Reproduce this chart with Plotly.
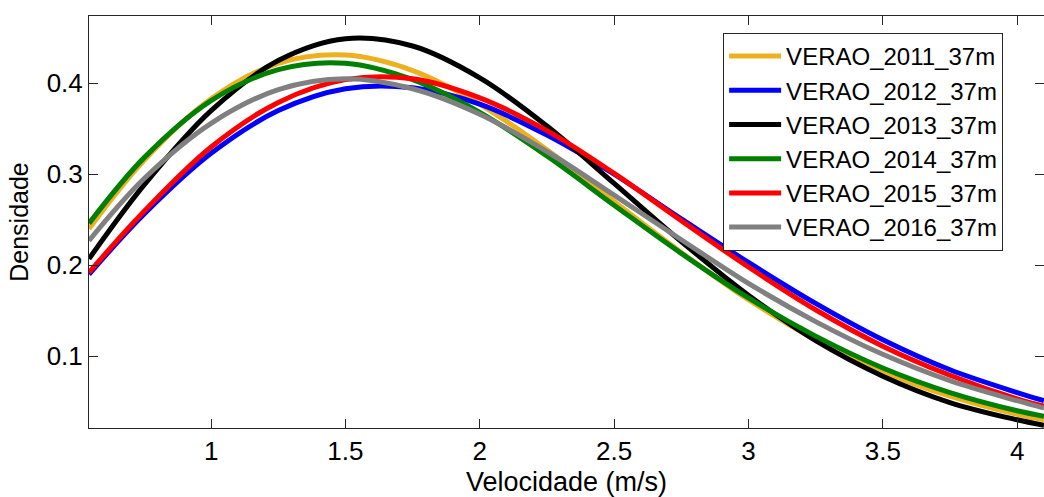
import plotly.graph_objects as go

# Wind speed grid (m/s)
velocidade = [0.5455, 0.75, 1.0, 1.25, 1.5, 1.75, 2.0, 2.25, 2.5, 2.75, 3.0, 3.25, 3.5, 3.75, 4.0, 4.1]

# Density values
verao_2011 = [0.240, 0.315, 0.383, 0.422, 0.431, 0.414, 0.377, 0.327, 0.270, 0.214, 0.162, 0.118, 0.083, 0.056, 0.036, 0.030]
verao_2012 = [0.190, 0.256, 0.323, 0.370, 0.394, 0.395, 0.377, 0.343, 0.300, 0.251, 0.203, 0.158, 0.118, 0.085, 0.060, 0.051]
verao_2013 = [0.207, 0.288, 0.370, 0.425, 0.449, 0.441, 0.406, 0.353, 0.290, 0.226, 0.167, 0.117, 0.078, 0.049, 0.030, 0.024]
verao_2014 = [0.246, 0.318, 0.381, 0.415, 0.422, 0.404, 0.368, 0.320, 0.266, 0.213, 0.164, 0.122, 0.087, 0.060, 0.040, 0.034]
verao_2015 = [0.192, 0.259, 0.330, 0.379, 0.404, 0.405, 0.384, 0.348, 0.301, 0.249, 0.198, 0.151, 0.111, 0.079, 0.053, 0.045]
verao_2016 = [0.227, 0.295, 0.356, 0.393, 0.405, 0.394, 0.366, 0.325, 0.277, 0.228, 0.180, 0.138, 0.102, 0.073, 0.051, 0.043]

series_names = ["VERAO_2011_37m", "VERAO_2012_37m", "VERAO_2013_37m",
                "VERAO_2014_37m", "VERAO_2015_37m", "VERAO_2016_37m"]
series_values = [verao_2011, verao_2012, verao_2013, verao_2014, verao_2015, verao_2016]
colors = ["#EDB120", "#0000FF", "#000000", "#008000", "#FF0000", "#808080"]

x_ticks = [1, 1.5, 2, 2.5, 3, 3.5, 4]
x_tick_labels = ["1", "1.5", "2", "2.5", "3", "3.5", "4"]
y_ticks = [0.1, 0.2, 0.3, 0.4]
y_tick_labels = ["0.1", "0.2", "0.3", "0.4"]

FONT = "Liberation Sans, Arial, sans-serif"
AXC = "#262626"

fig = go.Figure()
for name, vals, col in zip(series_names, series_values, colors):
    fig.add_trace(go.Scatter(
        x=velocidade, y=vals, name=name, mode="lines",
        line=dict(color=col, width=5, shape="spline", smoothing=1.0),
    ))

fig.update_layout(
    width=1044, height=497,
    margin=dict(l=89, r=0, t=16, b=69),
    paper_bgcolor="white", plot_bgcolor="white",
    font=dict(family=FONT, size=25, color="#000000"),
    showlegend=True,
    legend=dict(
        x=0.664, y=0.9587, xanchor="left", yanchor="top",
        bgcolor="white", bordercolor=AXC, borderwidth=1,
        font=dict(family=FONT, size=24, color="#000000"),
        itemwidth=52, tracegroupgap=0,
    ),
)
fig.update_xaxes(
    range=[0.5455, 4.1], tickvals=x_ticks, ticktext=x_tick_labels,
    showline=True, linecolor=AXC, linewidth=1, mirror="ticks",
    ticks="inside", ticklen=9, tickcolor=AXC, tickwidth=1,
    showgrid=False, zeroline=False,
    tickfont=dict(family=FONT, size=26, color="#000000"),
    title=dict(text="Velocidade (m/s)", font=dict(family=FONT, size=27), standoff=6),
)
fig.update_yaxes(
    range=[0.021, 0.474], tickvals=y_ticks, ticktext=y_tick_labels,
    showline=True, linecolor=AXC, linewidth=1, mirror="ticks",
    ticks="inside", ticklen=9, tickcolor=AXC, tickwidth=1,
    showgrid=False, zeroline=False,
    tickfont=dict(family=FONT, size=26, color="#000000"),
    title=dict(text="Densidade", font=dict(family=FONT, size=25), standoff=10),
)

fig.write_html("out.html")
